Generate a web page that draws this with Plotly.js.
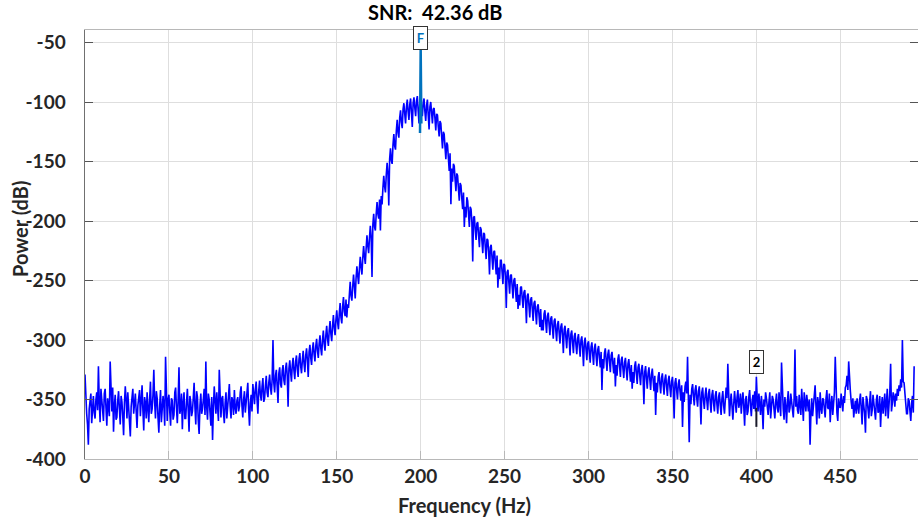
<!DOCTYPE html>
<html><head><meta charset="utf-8">
<script src="https://cdn.plot.ly/plotly-3.0.1.min.js"></script>
<style>html,body{margin:0;padding:0;background:#fff}#chart{width:918px;height:519px}</style>
</head><body><div id="chart"></div>
<script>
const freqStart = 0;
const freqStep = 0.5;
const powerDb = [
-329,-349,-362,-371,-388,-358,-352,-345,-370,-357,-347,-361,-366,-350,-344,-359,-322,-352,-369,-341,
-350,-362,-368,-345,-341,-357,-372,-349,-355,-364,-318,-346,-360,-340,-377,-355,-346,-367,-365,-351,
-343,-358,-371,-347,-352,-364,-380,-353,-339,-350,-366,-344,-356,-368,-381,-356,-348,-341,-362,-354,
-345,-360,-374,-355,-350,-342,-364,-351,-338,-359,-376,-348,-353,-366,-344,-357,-369,-350,-335,-362,
-358,-346,-325,-352,-366,-343,-349,-365,-378,-355,-342,-369,-361,-347,-355,-372,-314,-358,-368,-350,
-346,-360,-372,-349,-351,-367,-363,-344,-340,-357,-370,-350,-323,-362,-357,-345,-375,-353,-344,-366,
-366,-352,-341,-359,-377,-347,-352,-364,-360,-349,-336,-356,-371,-343,-348,-368,-379,-355,-345,-362,
-358,-350,-341,-363,-318,-356,-367,-345,-350,-361,-372,-348,-384,-357,-339,-351,-362,-344,-353,-368,
-325,-354,-365,-349,-347,-361,-370,-353,-344,-366,-358,-345,-337,-356,-366,-348,-351,-363,-342,-357,
-362,-351,-348,-360,-356,-344,-339,-355,-365,-350,-343,-361,-352,-345,-336,-358,-372,-353,-346,-360,
-337,-345,-354,-341,-335,-350,-362,-343,-334,-346,-351,-339,-332,-352,-349,-338,-330,-344,-348,-336,
-329,-340,-346,-333,-300,-336,-344,-330,-325,-339,-353,-328,-323,-337,-340,-326,-321,-334,-338,-324,
-319,-330,-356,-324,-317,-327,-335,-321,-315,-326,-333,-318,-313,-325,-331,-316,-311,-322,-328,-317,
-309,-320,-327,-313,-307,-317,-331,-310,-304,-315,-321,-308,-302,-312,-318,-305,-299,-309,-315,-303,
-296,-307,-313,-300,-292,-303,-309,-296,-288,-299,-305,-292,-284,-295,-301,-288,-279,-290,-296,-283,
-275,-285,-291,-278,-269,-281,-286,-272,-264,-276,-280,-266,-281,-270,-273,-262,-251,-263,-267,-255,
-245,-255,-265,-248,-238,-246,-253,-240,-230,-239,-245,-231,-221,-230,-236,-223,-212,-221,-227,-214,
-204,-214,-247,-203,-194,-205,-208,-194,-184,-194,-198,-182,-208,-179,-186,-172,-162,-171,-176,-161,
-151,-160,-187,-148,-139,-149,-152,-136,-127,-137,-140,-124,-115,-126,-130,-113,-107,-117,-122,-106,
-101,-110,-118,-104,-98,-108,-115,-102,-97,-109,-121,-101,-96,-105,-112,-99,-95,-107,-118,-100,
-96,-104,-112,-101,-97,-108,-116,-103,-98,-111,-123,-104,-100,-109,-118,-106,-105,-114,-124,-110,
-111,-121,-129,-116,-118,-129,-139,-125,-127,-138,-148,-134,-136,-147,-158,-143,-186,-156,-167,-152,
-154,-165,-175,-160,-162,-173,-183,-168,-170,-181,-190,-176,-205,-188,-197,-180,-183,-194,-205,-188,
-190,-201,-234,-197,-196,-207,-216,-202,-201,-212,-222,-205,-207,-217,-227,-210,-211,-222,-232,-215,
-216,-226,-245,-222,-220,-231,-241,-226,-225,-235,-245,-229,-256,-239,-249,-233,-233,-243,-253,-236,
-237,-247,-273,-243,-241,-251,-261,-246,-245,-255,-265,-250,-248,-258,-268,-253,-274,-262,-271,-256,
-255,-265,-273,-260,-258,-268,-286,-263,-261,-271,-281,-266,-264,-274,-284,-269,-267,-277,-287,-272,
-270,-279,-289,-274,-292,-283,-292,-278,-275,-285,-294,-280,-277,-287,-296,-282,-280,-290,-299,-284,
-282,-292,-301,-287,-284,-294,-303,-289,-286,-296,-311,-291,-288,-298,-307,-293,-290,-300,-313,-295,
-292,-302,-311,-297,-294,-304,-312,-299,-295,-305,-314,-300,-297,-307,-322,-302,-298,-308,-317,-303,
-301,-311,-319,-306,-302,-312,-321,-307,-303,-313,-322,-308,-305,-315,-323,-310,-342,-316,-324,-311,
-307,-317,-326,-312,-308,-318,-327,-313,-310,-320,-328,-315,-339,-321,-330,-316,-312,-322,-331,-317,
-314,-324,-332,-319,-315,-325,-334,-320,-316,-326,-335,-321,-341,-327,-336,-322,-318,-328,-337,-323,
-320,-330,-338,-325,-321,-331,-354,-327,-322,-332,-341,-328,-323,-333,-342,-329,-324,-334,-343,-330,
-363,-336,-344,-331,-327,-337,-345,-332,-328,-338,-346,-333,-329,-339,-347,-334,-330,-340,-348,-335,
-331,-341,-366,-336,-332,-342,-350,-337,-333,-343,-351,-338,-373,-344,-352,-339,-335,-345,-314,-350,
-386,-346,-354,-341,-337,-347,-355,-342,-338,-349,-356,-343,-339,-350,-371,-344,-340,-351,-358,-346,
-340,-351,-359,-345,-341,-352,-361,-346,-342,-353,-360,-347,-343,-354,-362,-348,-344,-355,-363,-349,
-343,-355,-362,-350,-340,-349,-320,-344,-364,-352,-345,-356,-367,-354,-343,-352,-361,-348,-342,-357,
-353,-345,-362,-351,-344,-356,-372,-350,-347,-363,-360,-348,-342,-355,-364,-351,-346,-358,-343,-360,
-331,-349,-360,-345,-352,-363,-347,-356,-375,-350,-356,-344,-349,-361,-363,-352,-344,-366,-358,-347,
-350,-358,-366,-352,-345,-357,-361,-344,-353,-364,-319,-349,-358,-367,-348,-356,-370,-351,-343,-361,
-357,-345,-351,-360,-365,-349,-308,-356,-347,-359,-362,-346,-354,-363,-341,-355,-368,-344,-352,-360,
-346,-357,-360,-350,-388,-362,-349,-364,-356,-345,-338,-355,-371,-348,-353,-366,-344,-357,-362,-349,
-350,-358,-365,-349,-342,-357,-358,-345,-369,-354,-347,-363,-355,-344,-314,-352,-361,-368,-349,-356,
-357,-345,-352,-360,-347,-353,-340,-338,-330,-342,-318,-335,-343,-352,-358,-349,-365,-357,-351,-362,
-349,-356,-362,-351,-345,-358,-371,-348,-355,-362,-378,-347,-350,-357,-366,-352,-343,-364,-359,-346,
-352,-358,-367,-350,-346,-361,-360,-347,-373,-356,-348,-362,-355,-345,-364,-351,-341,-366,-357,-344,
-320,-360,-353,-344,-348,-356,-345,-351,-341,-347,-338,-343,-333,-340,-300,-335,-336,-346,-358,-362,
-362,-349,-351,-357,-368,-353,-347,-361,-322
];
// Fundamental bins (highlighted)
const fundFreq = [199.6, 200, 200.4];
const fundPower = [-126, -55, -118];
// Second harmonic bin (highlighted)
const harmFreq = [400, 400];
const harmPower = [-357, -373];
// Marker labels
const markerText = ['F', '2'];
const markerFreq = [200, 400];
const markerPower = [-46, -318.5];
// Axis ticks
const xTicks = [0, 50, 100, 150, 200, 250, 300, 350, 400, 450];
const yTicks = [-400, -350, -300, -250, -200, -150, -100, -50];
const titleText = 'SNR:\u00a0 42.36 dB';
const xTitle = 'Frequency (Hz)';
const yTitle = 'Power (dB)';

const FONT = 'Lato, "Open Sans", sans-serif';
const TXT = '#262626';

const traces = [
  {x0: freqStart, dx: freqStep, y: powerDb, type: 'scatter', mode: 'lines',
   line: {color: '#0000FF', width: 1.6}, hoverinfo: 'skip'},
  {x: fundFreq, y: fundPower, type: 'scatter', mode: 'lines',
   line: {color: '#0072BD', width: 2.5}, hoverinfo: 'skip'},
  {x: harmFreq, y: harmPower, type: 'scatter', mode: 'lines',
   line: {color: '#1a1a2a', width: 2}, hoverinfo: 'skip'}
];

const annotations = [
  {text: titleText, xref: 'paper', yref: 'paper', x: 0.4208, y: 1.0408,
   xanchor: 'center', yanchor: 'middle', showarrow: false,
   font: {family: FONT, size: 20, color: '#000', weight: 'bold'}},
  {text: xTitle, xref: 'paper', yref: 'paper', x: 0.455, y: -0.1072,
   xanchor: 'center', yanchor: 'middle', showarrow: false,
   font: {family: FONT, size: 20, color: TXT, weight: 'bold'}},
  {text: yTitle, xref: 'paper', yref: 'paper', x: -0.0774, y: 0.5373,
   xanchor: 'center', yanchor: 'middle', showarrow: false, textangle: -90,
   font: {family: FONT, size: 20, color: TXT, weight: 'bold'}}
];
markerText.forEach((t, i) => {
  annotations.push({text: t, x: markerFreq[i], y: markerPower[i], xref: 'x', yref: 'y',
    showarrow: false, xanchor: 'center', yanchor: 'middle', width: 9, height: 18,
    bgcolor: '#ffffff', bordercolor: '#333333', borderwidth: 1, borderpad: 2,
    font: {family: FONT, size: 13, color: i === 0 ? '#0072BD' : '#000000', weight: 'bold'}});
});

const layout = {
  width: 918, height: 519,
  margin: {l: 85, r: 0, t: 30, b: 60, pad: 0},
  paper_bgcolor: '#ffffff', plot_bgcolor: '#ffffff',
  showlegend: false,
  xaxis: {range: [0, 496.3], tickvals: xTicks, ticktext: xTicks.map(String),
    showgrid: true, gridcolor: '#dedede', gridwidth: 1, zeroline: false,
    showline: true, linecolor: '#b8b8b8', linewidth: 1, mirror: true,
    ticks: 'inside', ticklen: 8, tickcolor: '#b8b8b8', ticklabelstandoff: 0,
    tickfont: {family: FONT, size: 19, color: TXT, weight: 'bold'}},
  yaxis: {range: [-400, -39.5], tickvals: yTicks, ticktext: yTicks.map(String),
    showgrid: true, gridcolor: '#dedede', gridwidth: 1, zeroline: false,
    showline: true, linecolor: '#707070', linewidth: 1.5, mirror: 'allticks',
    ticks: 'inside', ticklen: 8, tickcolor: '#555555', ticklabelstandoff: 14,
    tickfont: {family: FONT, size: 19, color: TXT, weight: 'bold'}},
  annotations: annotations
};

Plotly.newPlot('chart', traces, layout, {staticPlot: true, displayModeBar: false});
</script>
</body></html>
